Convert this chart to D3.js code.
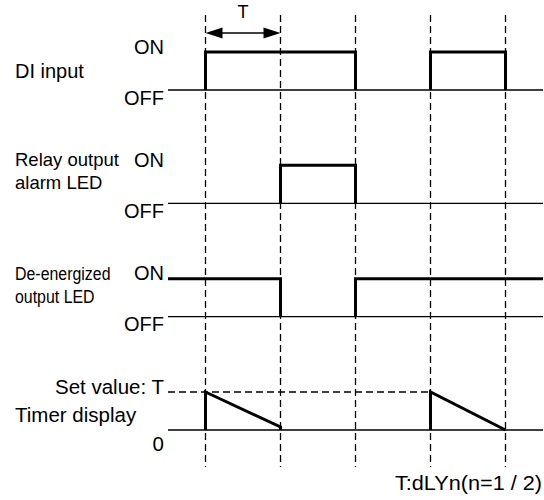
<!DOCTYPE html>
<html>
<head>
<meta charset="utf-8">
<script src="https://cdn.jsdelivr.net/npm/d3@7"></script>
<style>
  body { margin: 0; background: #fff; }
  svg text { font-family: "Liberation Sans", Arial, sans-serif; fill: #000; }
</style>
</head>
<body>
<svg></svg>
<script>
// time is counted in units of the delay T
var rowNames = [["DI input"], ["Relay output", "alarm LED"], ["De-energized", "output LED"], ["Timer display"]];
var levelNames = [["ON", "OFF"], ["ON", "OFF"], ["ON", "OFF"], ["Set value: T", "0"]];
var edges = [0, 1, 2, 3, 4];              // dashed guide lines
var diInput = [[0, 2], [3, 4]];           // ON intervals
var relayOut = [[1, 2]];
var deEnergized = [[-0.5, 1], [2, 4.5]];
var timerRamps = [                        // [t, value] points, value 1 = set value
  [[0, 0], [0, 1], [1, 0.08], [1, 0]],
  [[3, 0], [3, 1], [4, 0]]
];
var periodLabel = "T";
var footNote = "T:dLYn(n=1 / 2)";

var width = 544, height = 500;
var svg = d3.select("svg").attr("width", width).attr("height", height);

var x = d3.scaleLinear().domain([-0.5, 4.5]).range([168, 543]);
var row = d3.scalePoint().domain([0, 1, 2, 3]).range([90, 430]);
var lvl = 38;  // height of the ON level
function yAt(i, v) { return row(i) - v * lvl; }

var rowFont = [20, 18.5, 18.5, 20.5];

// baselines
svg.selectAll("line.base")
  .data(d3.range(4))
  .enter().append("line")
  .attr("class", "base")
  .attr("x1", x(-0.5)).attr("x2", x(4.5))
  .attr("y1", function(i){ return row(i); })
  .attr("y2", function(i){ return row(i); })
  .attr("stroke", "#000").attr("stroke-width", 1.3);

// dashed guides
svg.selectAll("line.guide")
  .data(edges)
  .enter().append("line")
  .attr("class", "guide")
  .attr("x1", function(d){ return x(d); })
  .attr("x2", function(d){ return x(d); })
  .attr("y1", 15).attr("y2", 467)
  .attr("stroke", "#000").attr("stroke-width", 1.3)
  .attr("stroke-dasharray", "7,4");

// set value dashed line
svg.append("line")
  .attr("x1", x(-0.5)).attr("x2", x(3))
  .attr("y1", yAt(3, 1)).attr("y2", yAt(3, 1))
  .attr("stroke", "#000").attr("stroke-width", 1.3)
  .attr("stroke-dasharray", "7,4");

// digital signals
var line = d3.line();
function pulses(i, intervals) {
  intervals.forEach(function(iv){
    var pts = [];
    if (iv[0] > -0.5) pts.push([iv[0], 0]);
    pts.push([iv[0], 1], [iv[1], 1]);
    if (iv[1] < 4.5) pts.push([iv[1], 0]);
    svg.append("path")
      .attr("d", line(pts.map(function(p){ return [x(p[0]), yAt(i, p[1])]; })))
      .attr("fill", "none").attr("stroke", "#000").attr("stroke-width", 3)
      .attr("stroke-linejoin", "miter");
  });
}
pulses(0, diInput);
pulses(1, relayOut);
pulses(2, deEnergized);

// timer ramps
timerRamps.forEach(function(r){
  svg.append("path")
    .attr("d", line(r.map(function(p){ return [x(p[0]), yAt(3, p[1])]; })))
    .attr("fill", "none").attr("stroke", "#000").attr("stroke-width", 3);
});

// period arrow
var ay = 33, a0 = x(edges[0]), a1 = x(edges[1]);
svg.append("line")
  .attr("x1", a0 + 10).attr("x2", a1 - 10)
  .attr("y1", ay).attr("y2", ay)
  .attr("stroke", "#000").attr("stroke-width", 1.5);
svg.append("path")
  .attr("d", "M" + a0 + "," + ay + "L" + (a0 + 17) + "," + (ay - 5.5) + "L" + (a0 + 17) + "," + (ay + 5.5) + "Z" +
             "M" + a1 + "," + ay + "L" + (a1 - 17) + "," + (ay - 5.5) + "L" + (a1 - 17) + "," + (ay + 5.5) + "Z")
  .attr("fill", "#000");
svg.append("text")
  .attr("x", (a0 + a1) / 2).attr("y", 18)
  .attr("text-anchor", "middle").style("font-size", "18px")
  .text(periodLabel);

// level labels
levelNames.forEach(function(n, i){
  svg.append("text")
    .attr("x", 164).attr("y", yAt(i, 1) + 1.5)
    .attr("text-anchor", "end").style("font-size", (i == 3 ? 20.5 : 20) + "px")
    .text(n[0]);
  svg.append("text")
    .attr("x", 164).attr("y", row(i) + (i == 3 ? 21 : 14.5))
    .attr("text-anchor", "end").style("font-size", (i == 3 ? 20.5 : 20) + "px")
    .text(n[1]);
});

// row names
rowNames.forEach(function(n, i){
  var g = svg.append("g");
  if (i == 2) g.attr("transform", "translate(15,0) scale(0.86,1) translate(-15,0)");
  n.forEach(function(s, j){
    var y;
    if (n.length == 1) y = row(i) - lvl / 2 + (i == 0 ? 7 : 11);
    else y = yAt(i, 1) + 1 + j * 23;
    g.append("text")
      .attr("x", 15).attr("y", y)
      .style("font-size", rowFont[i] + "px")
      .text(s);
  });
});

svg.append("text")
  .attr("x", 542).attr("y", 490)
  .attr("text-anchor", "end").style("font-size", "20px")
  .attr("textLength", 147).attr("lengthAdjust", "spacingAndGlyphs")
  .text(footNote);
</script>
</body>
</html>
